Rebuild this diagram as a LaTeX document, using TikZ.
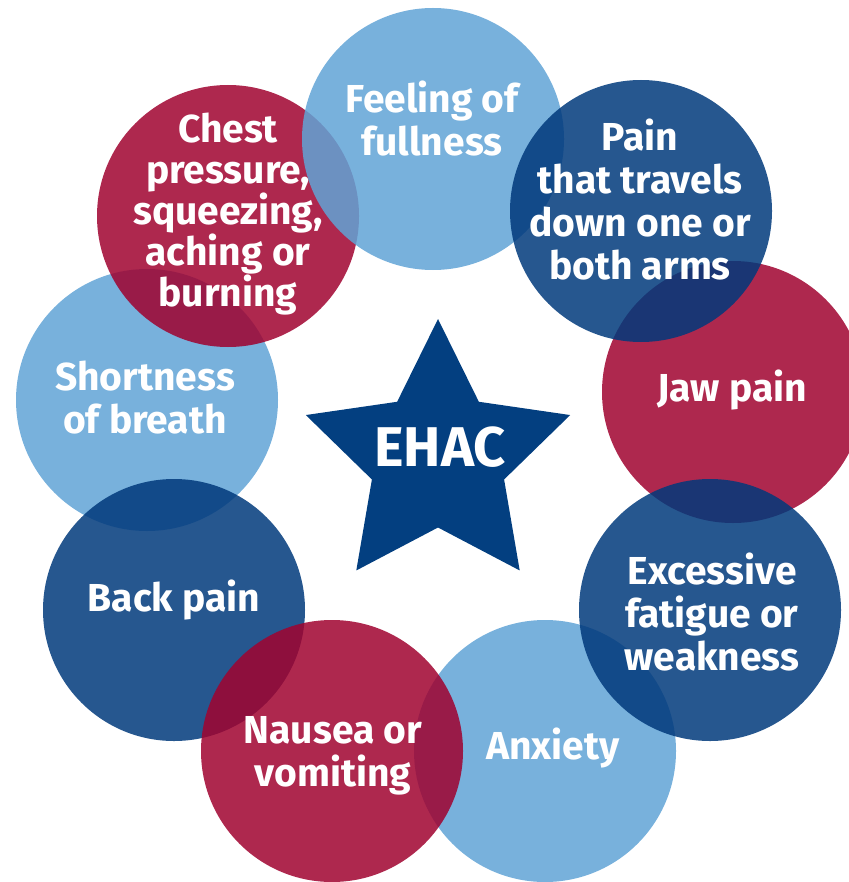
\documentclass[tikz,border=0pt]{standalone}
\usepackage{fontspec}
\setmainfont{Fira Sans}
\usetikzlibrary{shapes.geometric}
\definecolor{ehacred}{HTML}{A0022F}
\definecolor{ehaclight}{HTML}{60A3D6}
\definecolor{ehacdark}{HTML}{00397B}
\definecolor{ehacstar}{HTML}{033F80}

\begin{document}
\begin{tikzpicture}[x=0.5pt, y=-0.5pt,
    bubble/.style={circle, minimum size=131pt, inner sep=0pt, fill opacity=0.85},
    caption/.style={text=white, font=\fontsize{19.5}{21.5}\selectfont\bfseries, align=center, inner sep=0pt}]
    \useasboundingbox (0,0) rectangle (849,882);
    \clip (0,0) rectangle (849,882);
    \node[bubble, fill=ehaclight] (breath) at (147,400) {};
    \node[bubble, fill=ehacdark] (back) at (174,610) {};
    \node[bubble, fill=ehaclight] (anxiety) at (545,751) {};
    \node[bubble, fill=ehacred] (nausea) at (332,751) {};
    \node[bubble, fill=ehacred] (jaw) at (733,392) {};
    \node[bubble, fill=ehacdark] (fatigue) at (710,610) {};
    \node[bubble, fill=ehacred] (chest) at (228,216) {};
    \node[bubble, fill=ehaclight] (fullness) at (433,139) {};
    \node[bubble, fill=ehacdark] (arms) at (641,211) {};
    \node[star, star points=5, star point ratio=2, minimum size=139pt,
          inner sep=0pt, fill=ehacstar] (star) at (438,458) {};

    \node[caption] (fullnesstext) at (432,119) {Feeling of\\fullness};
    \node[caption] (armstext) at (640,200) {Pain\\that travels\\down one or\\both arms};
    \node[caption] (jawtext) at (732,390) {Jaw pain};
    \node[caption] (fatiguetext) at (712,612) {Excessive\\fatigue or\\weakness};
    \node[caption] (anxietytext) at (553,748) {Anxiety};
    \node[caption] (nauseatext) at (333,756) {Nausea or\\vomiting};
    \node[caption] (backtext) at (174,600) {Back pain};
    \node[caption] (breathtext) at (145,398) {Shortness\\of breath};
    \node[caption, font=\fontsize{19.5}{20.5}\selectfont\bfseries] (chesttext) at (228,214) {Chest\\pressure,\\squeezing,\\aching or\\burning};
    \node[caption, font=\fontsize{28}{30}\selectfont\bfseries] (ehac) at (440,447) {EHAC};
  \end{tikzpicture}
\end{document}
